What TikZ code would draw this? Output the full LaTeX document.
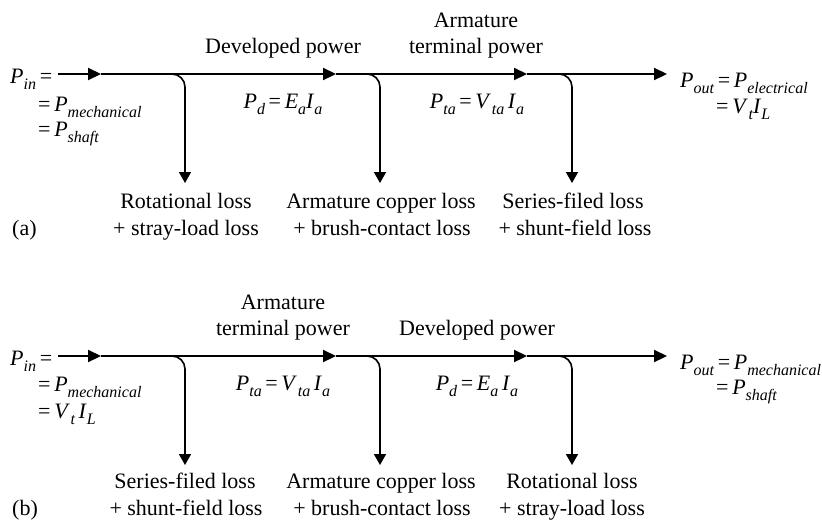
\documentclass[tikz,border=0pt]{standalone}
\usepackage{fontspec}
\setmainfont{Liberation Serif}
\usetikzlibrary{arrows.meta}
\newcommand\ssb[1]{\raisebox{-0.3em}{\fontsize{16}{16}\selectfont\itshape #1}}
\newcommand\vP{\textit{P}}
\newcommand\vV{\textit{V}\kern0.8pt}
\newcommand\vE{\textit{E}}
\newcommand\vI{\textit{I}}
\begin{document}
\begin{tikzpicture}[x=1pt,y=-1pt,
  txt/.style={inner sep=0pt, font=\fontsize{22}{26}\selectfont},
  lt/.style={txt, anchor=base west},
  ct/.style={txt, anchor=base},
  mainline/.style={line width=2.2pt, -{Triangle[length=13pt,width=12pt]}},
  branch/.style={line width=1.6pt, rounded corners=13pt, -{Triangle[length=11pt,width=12pt]}}]
\useasboundingbox (0,0) rectangle (822,520);

% ---------- (a) ----------
\coordinate (a0) at (58,74);
\coordinate (a1) at (101,74);
\coordinate (a2) at (336,74);
\coordinate (a3) at (527,74);
\coordinate (a4) at (667,74);
\draw[mainline] (a0) -- (a1);
\draw[mainline] (a1) -- (a2);
\draw[mainline] (a2) -- (a3);
\draw[mainline] (a3) -- (a4);
\coordinate (ab1s) at (171,74); \coordinate (ab1e) at (185,183);
\coordinate (ab2s) at (366,74); \coordinate (ab2e) at (380,183);
\coordinate (ab3s) at (558,74); \coordinate (ab3e) at (572,183);
\draw[branch] (ab1s) -| (ab1e);
\draw[branch] (ab2s) -| (ab2e);
\draw[branch] (ab3s) -| (ab3e);

\node[lt] (pinA) at (10,83) {\vP\ssb{in}\,=};
\node[lt] (pinA2) at (38,111) {=\,\vP\ssb{mechanical}};
\node[lt] (pinA3) at (38,136) {=\,\vP\ssb{shaft}};
\node[ct] (devA) at (283,53) {Developed power};
\node[ct] (armA1) at (476,27) {Armature};
\node[ct] (armA2) at (476,53) {terminal power};
\node[ct] (pdA) at (283,108) {\vP\ssb{d}\,=\,\vE\ssb{a}\vI\ssb{a}};
\node[ct] (ptaA) at (477,108) {\vP\ssb{ta}\,=\,\vV\ssb{ta}\,\vI\ssb{a}};
\node[lt] (poutA) at (680,87) {\vP\ssb{out}\,=\,\vP\ssb{electrical}};
\node[lt] (poutA2) at (716,113) {=\,\vV\ssb{t}\vI\ssb{L}};
\node[ct] (rotA1) at (186,208) {Rotational loss};
\node[ct] (rotA2) at (186,235) {+ stray-load loss};
\node[ct] (copA1) at (381,208) {Armature copper loss};
\node[ct] (copA2) at (382,235) {+ brush-contact loss};
\node[ct] (serA1) at (573,208) {Series-filed loss};
\node[ct] (serA2) at (575,235) {+ shunt-field loss};
\node[lt] (labA) at (12,235) {(a)};

% ---------- (b) ----------
\coordinate (b0) at (58,356);
\coordinate (b1) at (101,356);
\coordinate (b2) at (336,356);
\coordinate (b3) at (527,356);
\coordinate (b4) at (667,356);
\draw[mainline] (b0) -- (b1);
\draw[mainline] (b1) -- (b2);
\draw[mainline] (b2) -- (b3);
\draw[mainline] (b3) -- (b4);
\coordinate (bb1s) at (171,356); \coordinate (bb1e) at (185,465);
\coordinate (bb2s) at (366,356); \coordinate (bb2e) at (380,465);
\coordinate (bb3s) at (558,356); \coordinate (bb3e) at (572,465);
\draw[branch] (bb1s) -| (bb1e);
\draw[branch] (bb2s) -| (bb2e);
\draw[branch] (bb3s) -| (bb3e);

\node[lt] (pinB) at (10,365) {\vP\ssb{in}\,=};
\node[lt] (pinB2) at (38,391) {=\,\vP\ssb{mechanical}};
\node[lt] (pinB3) at (38,418) {=\,\vV\ssb{t}\,\vI\ssb{L}};
\node[ct] (armB1) at (283,309) {Armature};
\node[ct] (armB2) at (283,335) {terminal power};
\node[ct] (devB) at (477,335) {Developed power};
\node[ct] (ptaB) at (283,390) {\vP\ssb{ta}\,=\,\vV\ssb{ta}\,\vI\ssb{a}};
\node[ct] (pdB) at (477,390) {\vP\ssb{d}\,=\,\vE\ssb{a}\,\vI\ssb{a}};
\node[lt] (poutB) at (680,369) {\vP\ssb{out}\,=\,\vP\ssb{mechanical}};
\node[lt] (poutB2) at (716,394) {=\,\vP\ssb{shaft}};
\node[ct] (serB1) at (185,488) {Series-filed loss};
\node[ct] (serB2) at (186,515) {+ shunt-field loss};
\node[ct] (copB1) at (381,488) {Armature copper loss};
\node[ct] (copB2) at (382,515) {+ brush-contact loss};
\node[ct] (rotB1) at (572,488) {Rotational loss};
\node[ct] (rotB2) at (572,515) {+ stray-load loss};
\node[lt] (labB) at (12,515) {(b)};
\end{tikzpicture}
\end{document}
